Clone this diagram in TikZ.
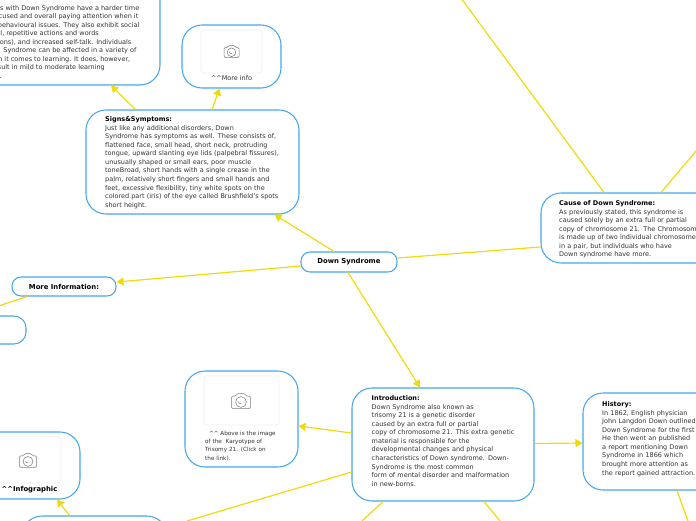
\documentclass[tikz,border=0pt]{standalone}
\usepackage{fontspec}
\setmainfont{DejaVu Sans}
\definecolor{edgeblue}{HTML}{45A8E8}
\definecolor{linkyel}{HTML}{F0DA0A}
\definecolor{imgline}{HTML}{EFEFEF}
\definecolor{bodytxt}{HTML}{333333}
\definecolor{camgray}{HTML}{7A7A7A}
\usetikzlibrary{arrows.meta,calc}
\tikzset{
  card/.style={draw=edgeblue,line width=1.05pt,fill=white,rounded corners=#1,inner sep=0pt},
  card/.default=20pt,
  txt/.style={inner sep=0pt,anchor=north west,align=left,font=\fontsize{6.5}{8.55}\selectfont,text=bodytxt},
  ttl/.style={font=\fontsize{6.85}{8.5}\selectfont\bfseries,text=black,inner sep=0pt},
  link/.style={draw=linkyel,line width=1.2pt},
  arr/.style={link,-{Triangle[length=7pt,width=8pt,fill=linkyel]}},
  imgbox/.style={draw=imgline,line width=0.7pt,fill=white,rounded corners=3pt,inner sep=0pt},
  clippedline/.style={inner sep=0pt,anchor=base east,font=\fontsize{6.5}{8.55}\selectfont,text=bodytxt},
}
\newcommand{\camicon}[2]{%
  \begin{scope}[shift={(#1)},scale=#2,draw=camgray,line width=0.5pt]
    \draw[rounded corners=1.2pt] (-7.5,-4) -- (-4,-4) -- (-3,-6) -- (3,-6) -- (4,-4) -- (7.5,-4) -- (7.5,6) -- (-7.5,6) -- cycle;
    \draw (0,0.8) circle (4.3);
    \draw (-2.2,0.4) arc (170:80:2.2);
  \end{scope}}
\begin{document}
\begin{tikzpicture}[x=1pt,y=-1pt]
\useasboundingbox (0,0) rectangle (696,520);
\begin{scope}
\clip (0,0) rectangle (696,520);
% boxes
\node[card=9pt,minimum width=96pt,minimum height=20pt] (down) at (349,262) {};
\node[ttl] at (down) {Down Syndrome};
\node[card=9pt,minimum width=104pt,minimum height=19pt] (moreinf) at (64,286.5) {};
\node[ttl] at (moreinf) {More Information:};
\node[card=12pt,minimum width=80pt,minimum height=28pt] (leftbox) at (-14,330) {};
\node[card,minimum width=213pt,minimum height=104pt] (signs) at (192.5,162) {};
\node[card,minimum width=99pt,minimum height=63pt] (moreimg) at (231.5,56.5) {};
\node[card,minimum width=260pt,minimum height=120pt] (toplft) at (30,25) {};
\node[card,minimum width=180pt,minimum height=70pt] (cause) at (631,228) {};
\node[card,minimum width=182pt,minimum height=113pt] (intro) at (443,444.5) {};
\node[card,minimum width=170pt,minimum height=97pt] (history) at (668,441.5) {};
\node[card,minimum width=113pt,minimum height=96pt] (karyo) at (241.5,419) {};
\node[card,minimum width=140pt,minimum height=67pt] (infog) at (10,465.5) {};
\node[card,minimum width=145pt,minimum height=40pt] (bottomb) at (94.5,536) {};
% image placeholders
\node[imgbox,minimum width=61pt,minimum height=43pt] (img1) at (231.5,51.5) {};
\node[imgbox,minimum width=75pt,minimum height=49pt] (img2) at (241.5,400.5) {};
\node[imgbox,minimum width=70pt,minimum height=46pt] (img3) at (26,460) {};
\camicon{231.5,51.5}{1}
\camicon{241,401}{1.25}
\camicon{28,460.5}{1.15}
% text
\node[txt,text width=185pt] (signstxt) at (105,116.5) {\textbf{\textcolor{black}{Signs\&Symptoms:}}\\Just like any additional disorders, Down\\Syndrome has symptoms as well. These consists of,\\flattened face, small head, short neck, protruding\\tongue, upward slanting eye lids (palpebral fissures),\\unusually shaped or small ears, poor muscle\\toneBroad, short hands with a single crease in the\\palm, relatively short fingers and small hands and\\feet, excessive flexibility, tiny white spots on the\\colored part (iris) of the eye called Brushfield's spots\\short height.};
\node[txt,text width=150pt] (causetxt) at (559,200.5) {\textbf{\textcolor{black}{Cause of Down Syndrome:}}\\As previously stated, this syndrome is\\caused solely by an extra full or partial\\copy of chromosome 21. The Chromosome\\is made up of two individual chromosomes\\in a pair, but individuals who have\\Down syndrome have more.};
\node[txt,text width=160pt] (introtxt) at (371.5,395.5) {\textbf{\textcolor{black}{Introduction:}}\\Down Syndrome also known as\\trisomy 21 is a genetic disorder\\caused by an extra full or partial\\copy of chromosome 21. This extra genetic\\material is responsible for the\\developmental changes and physical\\characteristics of Down syndrome. Down-\\Syndrome is the most common\\form of mental disorder and malformation\\in new-borns.};
\node[txt,text width=130pt] (histtxt) at (602,401.5) {\textbf{\textcolor{black}{History:}}\\In 1862, English physician\\John Langdon Down outlined\\Down Syndrome for the first time\\He then went an published\\a report mentioning Down\\Syndrome in 1866 which\\brought more attention as\\the report gained attraction.};
\node[txt,text width=85pt,font=\fontsize{5.7}{8.35}\selectfont] (karyotxt) at (205,430.5) {\ \ \^{}\^{} Above is the image\\of the\ \ Karyotype of\\Trisomy 21. (Click on\\the link).};
\node[txt,anchor=center] (moretxt) at (231.5,78.5) {\^{}\^{}More info};
\node[ttl,anchor=center] (infotxt) at (29.5,490) {\^{}\^{}Infographic};
% clipped lines of the top-left box
\node[clippedline] (tl1) at (139.5,10) {s with Down Syndrome have a harder time};
\node[clippedline] (tl2) at (138.5,18.5) {cused and overall paying attention when it};
\node[clippedline] (tl3) at (139.5,27) {behavioural issues. They also exhibit social};
\node[clippedline] (tl4) at (99,35.5) {l, repetitive actions and words};
\node[clippedline] (tl5) at (131.5,44) {ons), and increased self-talk. Individuals};
\node[clippedline] (tl6) at (136.5,52.5) {Syndrome can be affected in a variety of};
\node[clippedline] (tl7) at (130.5,61) {n it comes to learning. It does, however,};
\node[clippedline] (tl8) at (105,69.5) {sult in mild to moderate learning};
\node[clippedline] (tl9) at (2,78) {.};
% connectors
\coordinate (topA) at (462,-0.5);
\coordinate (topB) at (697,150);
\coordinate (lfoot) at (-3,306.5);
\coordinate (b1) at (362,521);
\coordinate (b2) at (500,521);
\coordinate (b3) at (688,521);
\coordinate (b4) at (187,521);
\draw[arr] ([xshift=-15pt]down.north) -- ([xshift=82pt]signs.south);
\draw[arr] ([yshift=-4pt]down.west) -- ([yshift=4.5pt]moreinf.east);
\draw[link] ([yshift=4pt]down.east) -- ([yshift=-19pt]cause.west);
\draw[arr] ([xshift=-1pt]down.south) -- ([xshift=-23pt]intro.north);
\draw[arr] ([xshift=-57pt]signs.north) -- ([xshift=81pt]toplft.south);
\draw[arr] ([xshift=19.5pt]signs.north) -- ([xshift=-12pt]moreimg.south);
\draw[arr] ([yshift=1pt]intro.east) -- ([yshift=-1.5pt]history.west);
\draw[arr] ([yshift=11.5pt]intro.west) -- ([yshift=-7pt]karyo.east);
\draw[link] ([yshift=-27.5pt]intro.west) -- (b4);
\draw[link] ([xshift=-60pt]intro.south) -- (b1);
\draw[link] ([xshift=41pt]intro.south) -- (b2);
\draw[link] ([xshift=9pt]history.south) -- (b3);
\draw[link] ([xshift=-27pt]cause.north) -- (topA);
\draw[link] ([xshift=30pt]cause.north) -- (topB);
\draw[link] ([xshift=-37pt]moreinf.south) -- (lfoot);
\draw[arr] ([xshift=-25pt]bottomb.north) -- ([xshift=47pt]infog.south);
\end{scope}
\end{tikzpicture}
\end{document}
